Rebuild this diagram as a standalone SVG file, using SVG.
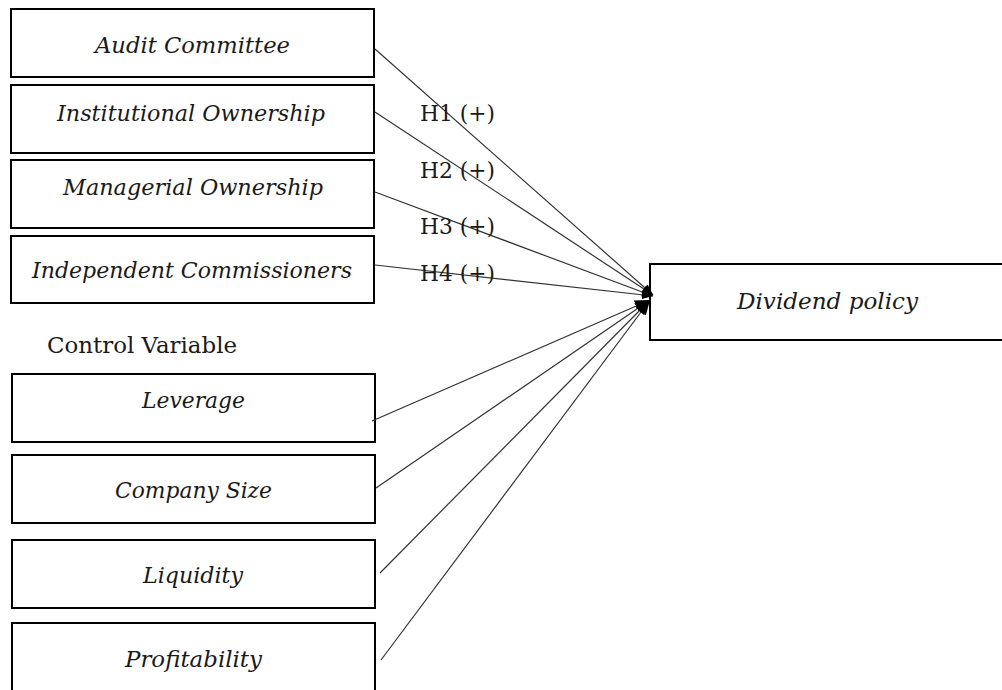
<svg xmlns="http://www.w3.org/2000/svg" width="1002" height="690" viewBox="0 0 1002 690">
<defs>
<style>
.box{fill:#fff;stroke:#000;stroke-width:2}
.lbl{font-family:"DejaVu Serif","Liberation Serif",serif;font-style:italic;font-size:22px;fill:#1a1a1a;text-anchor:middle}
.hyp{font-family:"DejaVu Serif","Liberation Serif",serif;font-size:22px;fill:#1a1a1a}
.edge{stroke:#333;stroke-width:1.2;fill:none;marker-end:url(#ah)}
.edge2{stroke:#333;stroke-width:1.2;fill:none;marker-end:url(#ah2)}
</style>
<marker id="ah" viewBox="0 0 10 10" refX="10" refY="5" markerWidth="11" markerHeight="11" markerUnits="userSpaceOnUse" orient="auto">
<path d="M0,1 L10,5 L0,9 z" fill="#000"/>
</marker>
<marker id="ah2" viewBox="0 0 10 10" refX="10" refY="5" markerWidth="15" markerHeight="15" markerUnits="userSpaceOnUse" orient="auto">
<path d="M0,1 L10,5 L0,9 z" fill="#000"/>
</marker>
</defs>
<rect width="1002" height="690" fill="#fff"/>
<g id="n1"><rect class="box" x="11" y="9" width="363" height="68"/><text class="lbl" x="192.5" y="53" textLength="195" lengthAdjust="spacingAndGlyphs">Audit Committee</text></g>
<g id="n2"><rect class="box" x="11" y="85" width="363" height="68"/><text class="lbl" x="191" y="121" textLength="268" lengthAdjust="spacingAndGlyphs">Institutional Ownership</text></g>
<g id="n3"><rect class="box" x="11" y="160" width="363" height="68"/><text class="lbl" x="193" y="195" textLength="260" lengthAdjust="spacingAndGlyphs">Managerial Ownership</text></g>
<g id="n4"><rect class="box" x="11" y="236" width="363" height="67"/><text class="lbl" x="192" y="278" textLength="320" lengthAdjust="spacingAndGlyphs">Independent Commissioners</text></g>
<text id="cv" class="hyp" x="47" y="353" textLength="190" lengthAdjust="spacingAndGlyphs">Control Variable</text>
<g id="n5"><rect class="box" x="12" y="374" width="363" height="68"/><text class="lbl" x="193.5" y="408" textLength="103" lengthAdjust="spacingAndGlyphs">Leverage</text></g>
<g id="n6"><rect class="box" x="12" y="455" width="363" height="68"/><text class="lbl" x="193.5" y="498" textLength="157" lengthAdjust="spacingAndGlyphs">Company Size</text></g>
<g id="n7"><rect class="box" x="12" y="540" width="363" height="68"/><text class="lbl" x="193" y="583" textLength="100" lengthAdjust="spacingAndGlyphs">Liquidity</text></g>
<g id="n8"><rect class="box" x="12" y="623" width="363" height="80"/><text class="lbl" x="193.5" y="667" textLength="137" lengthAdjust="spacingAndGlyphs">Profitability</text></g>
<g id="n9"><rect class="box" x="650" y="264" width="360" height="76"/><text class="lbl" x="827.5" y="309" textLength="181" lengthAdjust="spacingAndGlyphs">Dividend policy</text></g>
<g id="edges">
<line class="edge" x1="375" y1="49" x2="653" y2="295"/>
<line class="edge" x1="375" y1="112" x2="653" y2="295"/>
<line class="edge" x1="375" y1="192" x2="653" y2="296"/>
<line class="edge" x1="375" y1="265" x2="653" y2="296"/>
<line class="edge2" x1="372" y1="421" x2="650" y2="300"/>
<line class="edge2" x1="376" y1="488" x2="650" y2="300"/>
<line class="edge2" x1="380" y1="573" x2="650" y2="300"/>
<line class="edge2" x1="381" y1="660" x2="650" y2="300"/>
</g>
<g id="hyps">
<text class="hyp" x="420" y="121" textLength="75" lengthAdjust="spacingAndGlyphs">H1 (+)</text>
<text class="hyp" x="420" y="178" textLength="75" lengthAdjust="spacingAndGlyphs">H2 (+)</text>
<text class="hyp" x="420" y="234" textLength="75" lengthAdjust="spacingAndGlyphs">H3 (+)</text>
<text class="hyp" x="420" y="281" textLength="75" lengthAdjust="spacingAndGlyphs">H4 (+)</text>
</g>
</svg>
